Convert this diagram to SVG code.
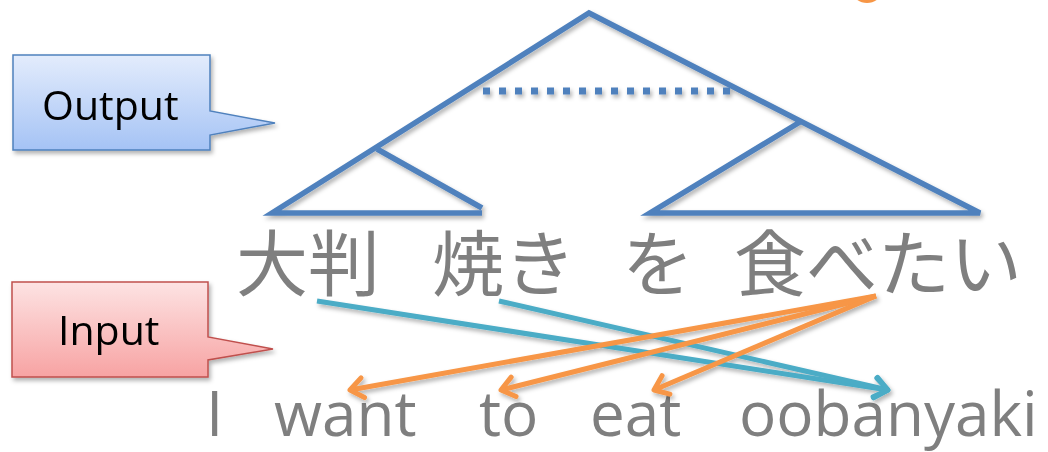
<svg xmlns="http://www.w3.org/2000/svg" width="1048" height="452" viewBox="0 0 1048 452">
<style>
.tree{fill:none;stroke:#4F81BD;stroke-width:5.5;stroke-linecap:butt;stroke-linejoin:miter}
.jp{font-family:"Noto Sans CJK JP","Noto Sans",sans-serif;font-size:72px;fill:#7F7F7F}
.en{font-family:"Open Sans","Liberation Sans",sans-serif;font-size:62px;fill:#7F7F7F}
.lbl{font-family:"Open Sans","Liberation Sans",sans-serif;font-size:41px;fill:#000}
.teal{fill:none;stroke:#4BACC6;stroke-width:5}
.orange{fill:none;stroke:#F79646;stroke-width:5}
</style>
<defs>
<filter id="sh" x="-10%" y="-10%" width="130%" height="140%">
<feDropShadow dx="2" dy="3" stdDeviation="2" flood-color="#000" flood-opacity="0.3"/>
</filter>
<linearGradient id="gBlue" x1="0" y1="0" x2="0" y2="1">
<stop offset="0" stop-color="#E3ECFC"/>
<stop offset="1" stop-color="#A5C3F5"/>
</linearGradient>
<linearGradient id="gRed" x1="0" y1="0" x2="0" y2="1">
<stop offset="0" stop-color="#FDE3E3"/>
<stop offset="1" stop-color="#F7A3A3"/>
</linearGradient>
<marker id="aT" markerUnits="userSpaceOnUse" markerWidth="30" markerHeight="30" viewBox="-20 -15 30 30" refX="0" refY="0" orient="auto">
<path d="M-13,-10 L0,0 L-13,10" fill="none" stroke="#4BACC6" stroke-width="5" stroke-linecap="round" stroke-linejoin="round"/>
</marker>
<marker id="aO" markerUnits="userSpaceOnUse" markerWidth="30" markerHeight="30" viewBox="-20 -15 30 30" refX="0" refY="0" orient="auto">
<path d="M-13,-10 L0,0 L-13,10" fill="none" stroke="#F79646" stroke-width="5" stroke-linecap="round" stroke-linejoin="round"/>
</marker>
</defs>
<rect width="1048" height="452" fill="#FFFFFF"/>

<ellipse id="orange-blob" cx="867" cy="-8" rx="14" ry="11" fill="#F79646"/>

<g id="tree" filter="url(#sh)">
<path class="tree" d="M482,213 L272,213 L589,13 L980,213 L650,213 L800,122"/>
<path class="tree" d="M377,149 L482,208"/>
<line x1="483" y1="91" x2="735" y2="91" stroke="#4F81BD" stroke-width="7" stroke-dasharray="7 9"/>
</g>

<g id="output-callout" filter="url(#sh)">
<path d="M13,55 L210,55 L210,111 L275,123 L210,135 L210,150 L13,150 Z" fill="url(#gBlue)" stroke="#4F81BD" stroke-width="1.5"/>
<text class="lbl" x="42" y="120">Output</text>
</g>

<g id="input-callout" filter="url(#sh)">
<path d="M12,282 L208,282 L208,337 L273,349 L208,360 L208,377 L12,377 Z" fill="url(#gRed)" stroke="#C0504D" stroke-width="1.5"/>
<text class="lbl" x="58" y="345">Input</text>
</g>

<g id="japanese">
<text class="jp" x="236" y="290">大判</text>
<text class="jp" x="432" y="290">焼き</text>
<text class="jp" x="622" y="290">を</text>
<text class="jp" x="734" y="290">食べたい</text>
</g>

<g id="english">
<text class="en" x="206" y="436">I</text>
<text class="en" x="274" y="436">want</text>
<text class="en" x="479" y="436">to</text>
<text class="en" x="590" y="436">eat</text>
<text class="en" x="739" y="436">oobanyaki</text>
</g>

<g id="connectors" filter="url(#sh)">
<line class="teal" x1="317" y1="301" x2="888" y2="390" marker-end="url(#aT)"/>
<line class="teal" x1="499" y1="301" x2="888" y2="390" marker-end="url(#aT)"/>
<line class="orange" x1="876" y1="296" x2="350" y2="390" marker-end="url(#aO)"/>
<line class="orange" x1="876" y1="296" x2="501" y2="390" marker-end="url(#aO)"/>
<line class="orange" x1="876" y1="296" x2="654" y2="390" marker-end="url(#aO)"/>
</g>
</svg>
